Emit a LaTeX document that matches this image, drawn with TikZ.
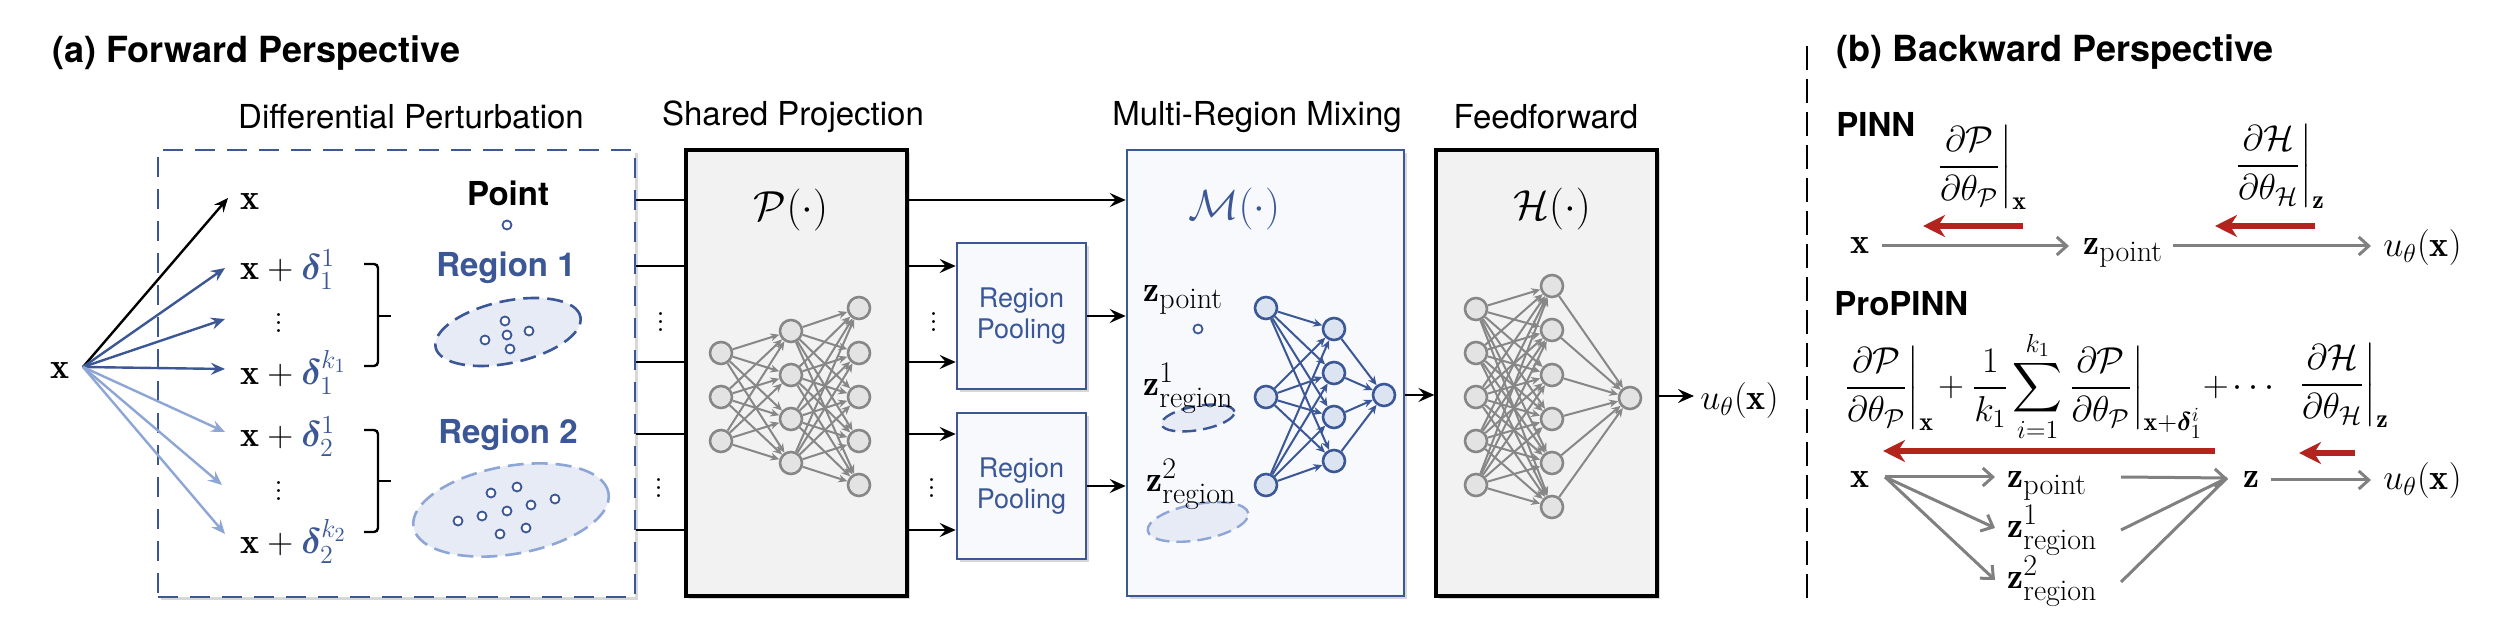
\RequirePackage{fix-cm}
\documentclass[tikz,border=0pt]{standalone}
\usepackage{amsmath,bm}
\usepackage{fontspec}
\setsansfont{TeX Gyre Heros}
\DeclareMathSizes{18}{18}{13}{10}
\DeclareMathSizes{21}{21}{15}{11}
\newcommand{\zsub}[1]{\mbox{\fontsize{15}{17}\selectfont #1}}
\usetikzlibrary{arrows.meta,shadows,calc}
\definecolor{dblue}{RGB}{59,87,150}
\definecolor{lblue}{RGB}{142,166,214}
\definecolor{efill}{RGB}{230,235,246}
\definecolor{gfill}{RGB}{243,242,243}
\definecolor{bfill}{RGB}{247,249,253}
\definecolor{nngray}{RGB}{135,135,135}
\definecolor{nnfill}{RGB}{227,227,227}
\definecolor{bnnfill}{RGB}{220,228,242}
\definecolor{dred}{RGB}{178,36,30}
\definecolor{agray}{RGB}{128,128,128}
\tikzset{
  hdr/.style={font=\sffamily\fontsize{16.5}{19}\selectfont, inner sep=0pt},
  ttl/.style={font=\sffamily\bfseries\fontsize{18}{21}\selectfont, inner sep=0pt, anchor=west},
  lbl/.style={font=\sffamily\bfseries\fontsize{16.5}{19}\selectfont, inner sep=0pt},
  mth/.style={font=\fontsize{18}{21}\selectfont, inner sep=0pt},
  bigm/.style={font=\fontsize{21}{24}\selectfont, inner sep=0pt},
  shadowed/.style={drop shadow={opacity=0.3, shadow xshift=1.5pt, shadow yshift=-1.5pt}},
  grayblock/.style={draw=black, line width=1.6pt, fill=gfill, shadowed, minimum width=110.5pt, minimum height=223pt, inner sep=0pt},
  blueblock/.style={draw=dblue, line width=1.3pt, fill=bfill, shadowed, inner sep=0pt},
  conn/.style={line width=1.3pt, black},
  carrow/.style={conn, -{Stealth[length=8pt,width=7pt,inset=3pt]}},
  gnode/.style={circle, draw=nngray, fill=nnfill, line width=1.3pt, minimum size=11pt, inner sep=0pt},
  bnode/.style={circle, draw=dblue, fill=bnnfill, line width=1.3pt, minimum size=11pt, inner sep=0pt},
  gedge/.style={draw=nngray, line width=1pt, -{Stealth[length=4.5pt,width=4pt]}},
  bedge/.style={draw=dblue, line width=1pt, -{Stealth[length=4.5pt,width=4pt]}},
  dotc/.style={circle, draw=dblue, fill=white, line width=0.9pt, minimum size=4.5pt, inner sep=0pt},
  fwd/.style={line width=1.2pt, -{Stealth[length=7pt,width=6pt,inset=2.5pt]}},
  garrow/.style={draw=agray, line width=1.5pt, -{Straight Barb[length=5pt,width=9pt]}},
  gline/.style={draw=agray, line width=1.5pt},
  rarrow/.style={draw=dred, line width=2.6pt, -{Stealth[length=11pt,width=11pt,inset=3.5pt]}},
  brace/.style={line width=1.2pt, rounded corners=2pt},
}
\begin{document}
\begin{tikzpicture}[x=0.5pt,y=-0.5pt]
\useasboundingbox (0,0) rectangle (2508,624);
\fill[white] (0,0) rectangle (2508,624);

% ---------------- (a) forward ----------------
\node[ttl] (ta) at (52,53) {(a) Forward Perspective};
\node[hdr] (h1) at (411,117) {Differential Perturbation};
\node[hdr] (h2) at (793,117) {Shared Projection};
\node[hdr] (h3) at (1257,117) {Multi-Region Mixing};
\node[hdr] (h4) at (1546,117) {Feedforward};

\node[draw=dblue, line width=1.3pt, dash pattern=on 10pt off 6pt, fill=white, shadowed,
      minimum width=238.5pt, minimum height=223.5pt, inner sep=0pt] (DP) at (396.5,373.5) {};

\node[mth] (x0) at (60,371) {$\mathbf{x}$};
\coordinate (xs) at (83,367);
\coordinate (t0) at (228,198);
\coordinate (t1) at (225,268);
\coordinate (t2) at (225,319);
\coordinate (t3) at (225,369);
\coordinate (t4) at (225,432);
\coordinate (t5) at (222,485);
\coordinate (t6) at (225,534);
\draw[fwd, black] (xs) -- (t0);
\foreach \t in {t1,t2,t3} \draw[fwd, dblue] (xs) -- (\t);
\foreach \t in {t4,t5,t6} \draw[fwd, lblue] (xs) -- (\t);

\node[mth, anchor=base west] (l0) at (240,210) {$\mathbf{x}$};
\node[mth, anchor=base west] (l1) at (240,280) {$\mathbf{x}+\textcolor{dblue}{\bm{\delta}_{1}^{1}}$};
\node[mth] (ld1) at (279,317) {$\vdots$};
\node[mth, anchor=base west] (l2) at (240,385) {$\mathbf{x}+\textcolor{dblue}{\bm{\delta}_{1}^{k_1}}$};
\node[mth, anchor=base west] (l3) at (240,447) {$\mathbf{x}+\textcolor{dblue}{\bm{\delta}_{2}^{1}}$};
\node[mth] (ld2) at (279,485) {$\vdots$};
\node[mth, anchor=base west] (l4) at (240,554) {$\mathbf{x}+\textcolor{dblue}{\bm{\delta}_{2}^{k_2}}$};

\draw[brace] (364,264) -| (378,366) -- (364,366);
\draw[brace] (378,316) -- (391,316);
\draw[brace] (364,430) -| (378,532) -- (364,532);
\draw[brace] (378,481) -- (391,481);

\node[lbl] (pnt) at (508,193) {Point};
\node[dotc] (pntc) at (507,225) {};
\node[lbl, text=dblue] (rg1) at (506,268) {Region 1};
\draw[dblue, line width=1.3pt, dash pattern=on 8pt off 4pt, fill=efill, rotate around={12:(508,332)}]
  (508,332) ellipse [x radius=37pt, y radius=15.5pt];
\foreach \p [count=\i] in {(505,321),(485,340),(507,335),(529,331),(510,349)}
  \node[dotc] (ea\i) at \p {};
\node[lbl, text=dblue] (rg2) at (508,435) {Region 2};
\draw[lblue, line width=1.3pt, dash pattern=on 8pt off 4pt, fill=efill, rotate around={10:(511,510)}]
  (511,510) ellipse [x radius=49.5pt, y radius=22pt];
\foreach \p [count=\i] in {(491,493),(517,487),(555,499),(531,505),(507,511),(482,516),(458,521),(500,534),(526,528)}
  \node[dotc] (eb\i) at \p {};

% Shared projection
\node[grayblock] (P) at (796.5,373) {};
\node[bigm] (Pl) at (791,210) {$\mathcal{P}(\cdot)$};
\coordinate (r1) at (0,200);
\coordinate (r2) at (0,266);
\coordinate (r3) at (0,362);
\coordinate (r4) at (0,434);
\coordinate (r5) at (0,530);
\foreach \r in {r1,r2,r3,r4,r5} \draw[conn] (DP.east |- \r) -- (P.west |- \r);
\node[mth] (dd1) at (661,316) {$\vdots$};
\node[mth] (dd2) at (659,482) {$\vdots$};

\foreach \y [count=\i] in {353,397,441} \node[gnode] (pa\i) at (721,\y) {};
\foreach \y [count=\i] in {331,375,419,463} \node[gnode] (pb\i) at (791,\y) {};
\foreach \y [count=\i] in {308,353,397,441,485} \node[gnode] (pc\i) at (859,\y) {};
\foreach \i in {1,2,3} \foreach \j in {1,2,3,4} \draw[gedge] (pa\i) -- (pb\j);
\foreach \i in {1,2,3,4} \foreach \j in {1,2,3,4,5} \draw[gedge] (pb\i) -- (pc\j);

% Region pooling
\node[blueblock, minimum width=64.5pt, minimum height=73pt, align=center,
      font=\sffamily\fontsize{13.5}{15.5}\selectfont, text=dblue] (RP1) at (1021.5,316) {Region\\Pooling};
\node[blueblock, minimum width=64.5pt, minimum height=73pt, align=center,
      font=\sffamily\fontsize{13.5}{15.5}\selectfont, text=dblue] (RP2) at (1021.5,486) {Region\\Pooling};
\node[mth] (dd3) at (934,316) {$\vdots$};
\node[mth] (dd4) at (932,482) {$\vdots$};

% Multi-region mixing
\node[blueblock, minimum width=138.5pt, minimum height=223pt] (M) at (1265.5,373) {};
\node[bigm, text=dblue] (Ml) at (1234,209) {$\mathcal{M}(\cdot)$};
\draw[carrow] (P.east |- r1) -- (M.west |- r1);
\draw[carrow] (P.east |- r2) -- (RP1.west |- r2);
\draw[carrow] (P.east |- r3) -- (RP1.west |- r3);
\draw[carrow] (P.east |- r4) -- (RP2.west |- r4);
\draw[carrow] (P.east |- r5) -- (RP2.west |- r5);
\draw[carrow] (RP1.east) -- (M.west |- RP1.east);
\draw[carrow] (RP2.east) -- (M.west |- RP2.east);

\node[mth, anchor=base west] (mz0) at (1143,302) {$\mathbf{z}_{\zsub{point}}$};
\node[dotc] (mz0c) at (1198,329) {};
\draw[dblue, line width=1.2pt, dash pattern=on 7pt off 3.5pt, fill=efill, rotate around={10:(1198,418)}]
  (1198,418) ellipse [x radius=18.5pt, y radius=6pt];
\draw[lblue, line width=1.2pt, dash pattern=on 7pt off 3.5pt, fill=efill, rotate around={10:(1198,522)}]
  (1198,522) ellipse [x radius=25.5pt, y radius=9pt];
\node[mth, anchor=base west] (mz1) at (1143,396) {$\mathbf{z}^{\zsub{1}}_{\zsub{region}}$};
\node[mth, anchor=base west] (mz2) at (1146,492) {$\mathbf{z}^{\zsub{2}}_{\zsub{region}}$};

\foreach \y [count=\i] in {308,397,485} \node[bnode] (ma\i) at (1266,\y) {};
\foreach \y [count=\i] in {329,373,417,461} \node[bnode] (mb\i) at (1334,\y) {};
\node[bnode] (mc1) at (1384,395) {};
\foreach \i in {1,2,3} \foreach \j in {1,2,3,4} \draw[bedge] (ma\i) -- (mb\j);
\foreach \i in {1,2,3,4} \draw[bedge] (mb\i) -- (mc1);

% Feedforward
\node[grayblock] (H) at (1546.5,373) {};
\node[bigm] (Hl) at (1552,209) {$\mathcal{H}(\cdot)$};
\draw[carrow] (M.east |- mc1) -- (H.west |- mc1);
\foreach \y [count=\i] in {309,353,397,441,485} \node[gnode] (ha\i) at (1476,\y) {};
\foreach \y [count=\i] in {286,330,375,419,463,507} \node[gnode] (hb\i) at (1552,\y) {};
\node[gnode] (hc1) at (1630,398) {};
\foreach \i in {1,...,5} \foreach \j in {1,...,6} \draw[gedge] (ha\i) -- (hb\j);
\foreach \i in {1,...,6} \draw[gedge] (hb\i) -- (hc1);

\node[mth, anchor=base west] (uo) at (1700,410) {$u_\theta(\mathbf{x})$};
\coordinate (ue) at (1694,396);
\draw[carrow] (H.east |- ue) -- (ue);

% separator
\draw[line width=1pt, dash pattern=on 12pt off 4.5pt] (1807,46) -- (1807,600);

% ---------------- (b) backward ----------------
\node[ttl] (tb) at (1836,52) {(b) Backward Perspective};
\node[lbl, anchor=west] (pinn) at (1836,124) {PINN};
\node[lbl, anchor=west] (propinn) at (1834,304) {ProPINN};

\node[mth, anchor=base west] (f1) at (1935,176) {$\displaystyle\left.\frac{\partial\mathcal{P}}{\partial\theta_{\mathcal{P}}}\right|_{\mathbf{x}}$};
\node[mth, anchor=base west] (f2) at (2233,175) {$\displaystyle\left.\frac{\partial\mathcal{H}}{\partial\theta_{\mathcal{H}}}\right|_{\mathbf{z}}$};

\node[mth] (bx1) at (1860,246) {$\mathbf{x}$};
\node[mth, anchor=base west] (bz1) at (2083,255) {$\mathbf{z}_{\zsub{point}}$};
\node[mth, anchor=base west] (bu1) at (2383,257) {$u_\theta(\mathbf{x})$};
\draw[garrow, shorten <=6pt, shorten >=7pt] (bx1.east) -- (bx1.east -| bz1.west);
\draw[garrow, shorten <=5pt, shorten >=6pt] (bz1.east |- bx1.east) -- (bx1.east -| bu1.west);

\coordinate (ra1) at (2023,226);
\coordinate (rb1) at (1923,226);
\coordinate (ra2) at (2315,226);
\coordinate (rb2) at (2215,226);
\draw[rarrow] (ra1) -- (rb1);
\draw[rarrow] (ra2) -- (rb2);

\node[mth, anchor=base west] (f3) at (1842,397) {$\displaystyle\left.\frac{\partial\mathcal{P}}{\partial\theta_{\mathcal{P}}}\right|_{\mathbf{x}}\mkern-2mu+\frac{1}{k_1}\mkern-1mu\sum_{i=1}^{k_1}\mkern-1mu\left.\frac{\partial\mathcal{P}}{\partial\theta_{\mathcal{P}}}\right|_{\mathbf{x}+\bm{\delta}_1^i}\mkern-4mu+\mkern-2mu\cdots$};
\node[mth, anchor=base west] (f4) at (2297,394) {$\displaystyle\left.\frac{\partial\mathcal{H}}{\partial\theta_{\mathcal{H}}}\right|_{\mathbf{z}}$};

\coordinate (ra3) at (2215,451);
\coordinate (rb3) at (1883,451);
\coordinate (ra4) at (2355,453);
\coordinate (rb4) at (2299,453);
\draw[rarrow] (ra3) -- (rb3);
\draw[rarrow] (ra4) -- (rb4);

\node[mth] (bx2) at (1860,480) {$\mathbf{x}$};
\node[mth, anchor=base west] (bzp) at (2007,488) {$\mathbf{z}_{\zsub{point}}$};
\node[mth, anchor=base west] (bzr1) at (2007,538) {$\mathbf{z}^{\zsub{1}}_{\zsub{region}}$};
\node[mth, anchor=base west] (bzr2) at (2007,589) {$\mathbf{z}^{\zsub{2}}_{\zsub{region}}$};
\node[mth] (bz) at (2251,480) {$\mathbf{z}$};
\node[mth, anchor=base west] (bu2) at (2383,490) {$u_\theta(\mathbf{x})$};

\coordinate (xs2) at (1885,477);
\coordinate (q0) at (1995,477);
\coordinate (q1) at (1995,528);
\coordinate (q2) at (1995,580);
\draw[garrow] (xs2) -- (q0);
\draw[garrow] (xs2) -- (q1);
\draw[garrow] (xs2) -- (q2);
\coordinate (zin) at (2227,478);
\coordinate (s0) at (2121,477);
\coordinate (s1) at (2121,530);
\coordinate (s2) at (2121,582);
\draw[gline] (s1) -- (zin);
\draw[gline] (s2) -- (zin);
\draw[garrow] (s0) -- (zin);
\draw[garrow, shorten <=6pt, shorten >=6pt] (bz.east) -- (bz.east -| bu2.west);
\end{tikzpicture}
\end{document}
